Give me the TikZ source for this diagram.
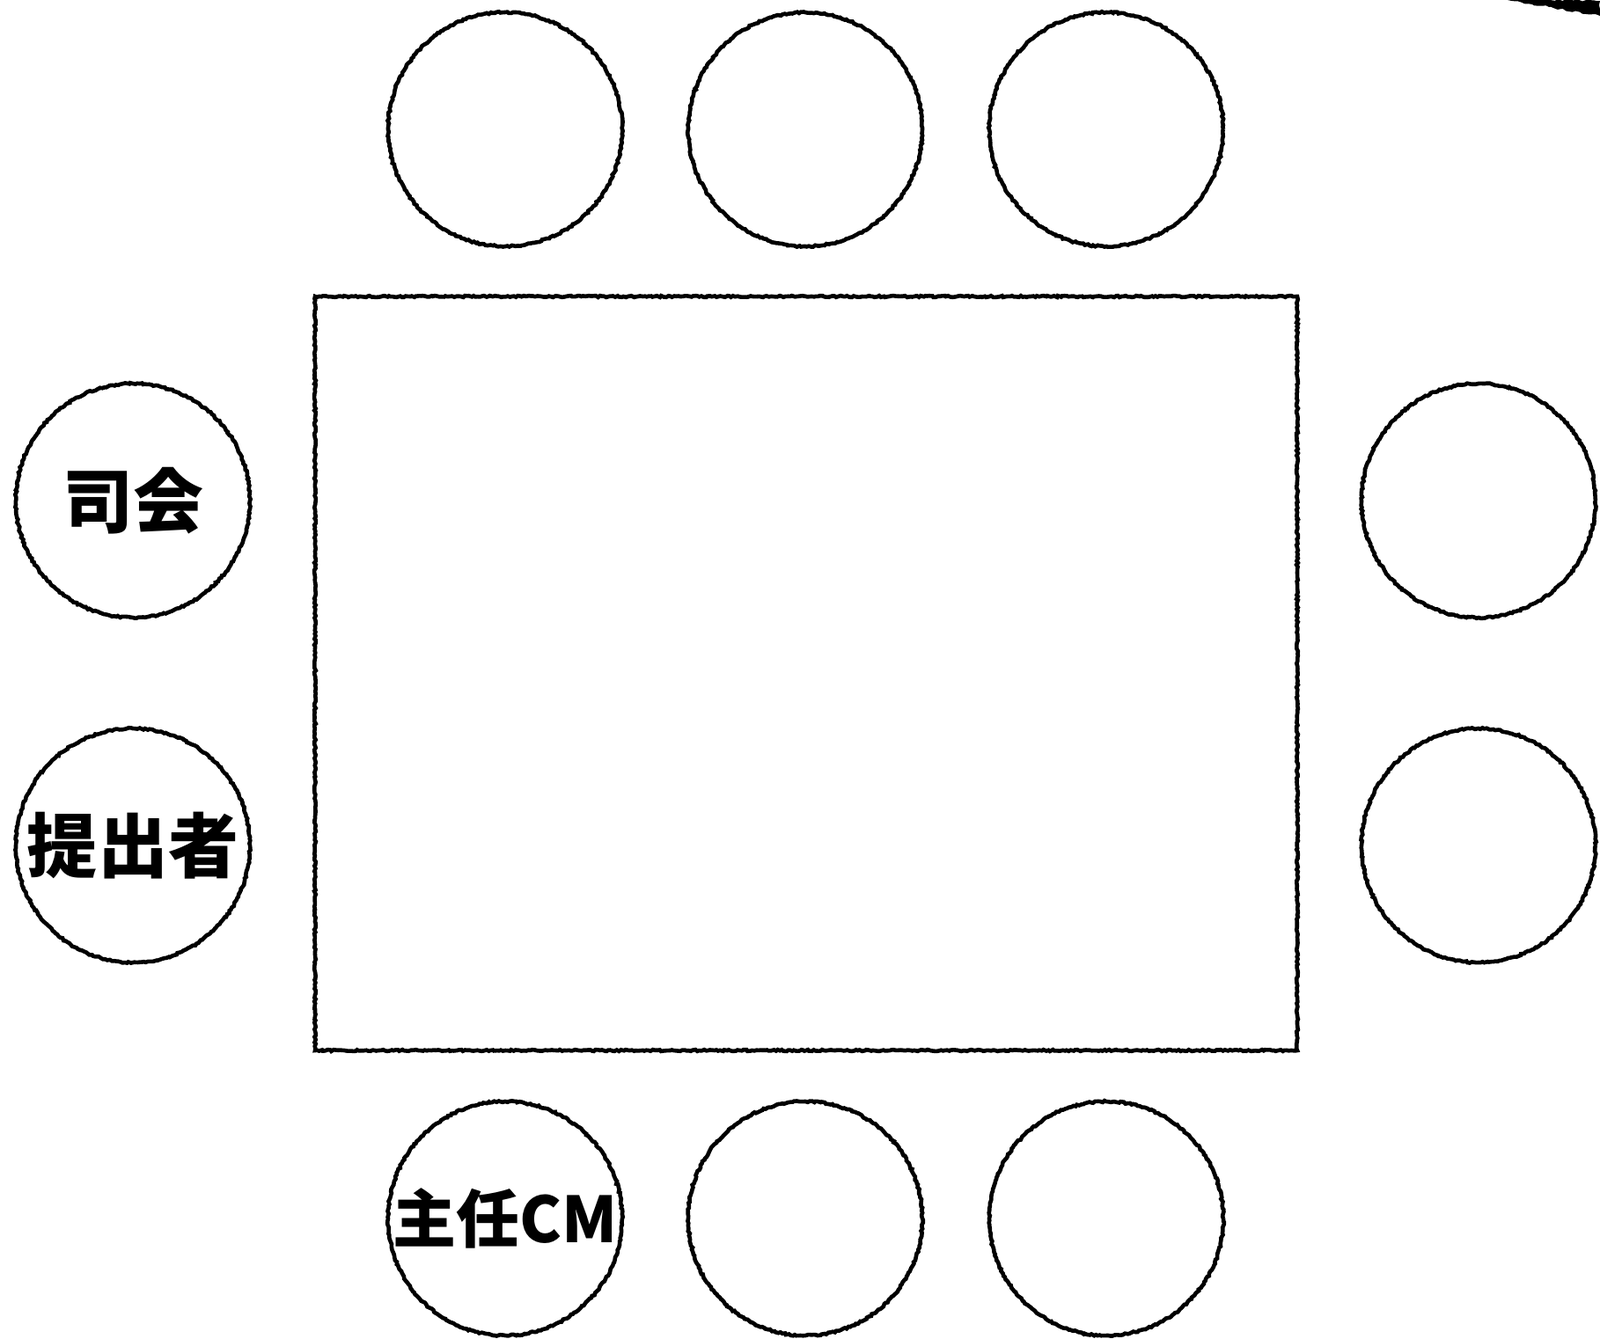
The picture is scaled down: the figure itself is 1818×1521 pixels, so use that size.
\documentclass[tikz,border=0pt]{standalone}
\usepackage{fontspec}
\newfontfamily\jpfont{Noto Sans CJK JP}
\usepackage{tikz}
\usetikzlibrary{decorations.pathmorphing}

\tikzset{
  sketch/.style={draw=black, line width=2.3pt, decorate,
    decoration={random steps, segment length=1.2pt, amplitude=0.45pt}},
  seat/.style={sketch, circle, minimum size=133pt, inner sep=0pt,
    font=\jpfont\bfseries\fontsize{40}{40}\selectfont},
}

\begin{document}
\begin{tikzpicture}[x=0.5pt, y=-0.5pt]
                \useasboundingbox (0,0) rectangle (1818,1521);
                % table
                \node[sketch, minimum width=558pt, minimum height=428.5pt, inner sep=0pt] (table) at (916,765.5) {};
                % seats on the long sides
                \node[seat] (top1) at (574,147) {};
                \node[seat] (top2) at (915,147) {};
                \node[seat] (top3) at (1257,147) {};
                \node[seat, font=\jpfont\bfseries\fontsize{36}{36}\selectfont] (bot1) at (574,1385) {主任CM};
                \node[seat] (bot2) at (915,1385) {};
                \node[seat] (bot3) at (1257,1385) {};
                % seats on the short sides
                \node[seat] (left1) at (151,569) {司会};
                \node[seat] (left2) at (151,961) {提出者};
                \node[seat] (right1) at (1680,569) {};
                \node[seat] (right2) at (1680,961) {};
                % stray stroke in the corner
                \clip (0,0) rectangle (1818,1521);
                \fill[black, decorate, decoration={random steps, segment length=2pt, amplitude=0.6pt}]
                    (1695,-2) -- (1818,1) -- (1818,18) -- (1760,8) -- cycle;
            \end{tikzpicture}
\end{document}
